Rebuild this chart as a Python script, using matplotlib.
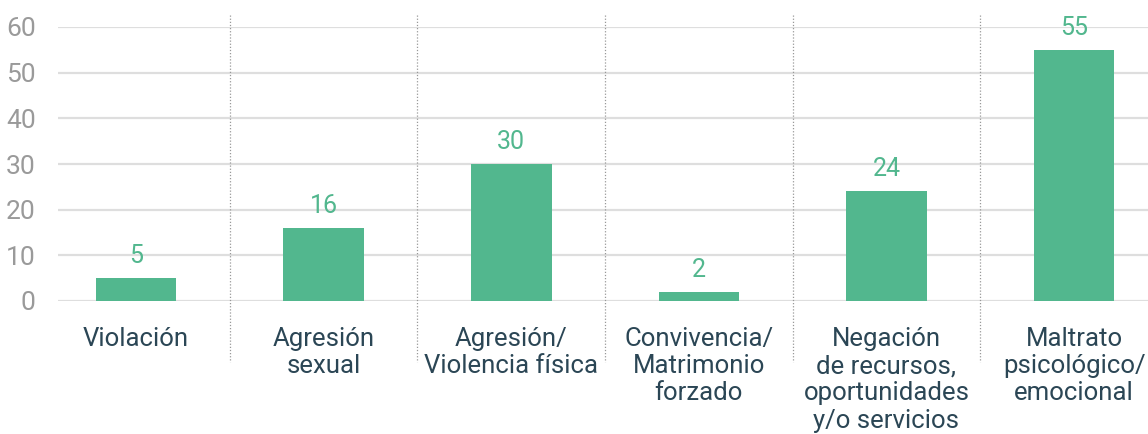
import matplotlib
matplotlib.use('Agg')
import matplotlib.pyplot as plt
import matplotlib.transforms as mtransforms
from matplotlib import font_manager

categories = ['Violación', 'Agresión\nsexual', 'Agresión/\nViolencia física',
              'Convivencia/\nMatrimonio\nforzado',
              'Negación\nde recursos,\noportunidades\ny/o servicios',
              'Maltrato\npsicológico/\nemocional']
values = [5, 16, 30, 2, 24, 55]
y_ticks = [0, 10, 20, 30, 40, 50, 60]

names = {f.name for f in font_manager.fontManager.ttflist}
narrow = 'Liberation Sans Narrow' if 'Liberation Sans Narrow' in names else 'Roboto'

green = '#52b78e'
dark = '#2b4655'

fig = plt.figure(figsize=(11.48, 4.34), dpi=100)
ax = fig.add_axes([58 / 1148, 1 - 301 / 434, 1 - 58 / 1148, 274 / 434])

x = list(range(len(values)))
ax.bar(x, values, width=0.43, color=green, zorder=3)

for xi, v in zip(x, values):
    ax.text(xi, v + 2.2, str(v), ha='center', va='bottom', color=green,
            fontsize=18, family=narrow)

ax.set_ylim(0, 60)
ax.set_xlim(-0.416, 5.394)
ax.set_yticks(y_ticks)
ax.set_yticklabels([str(t) for t in y_ticks], family=narrow, fontsize=19, color='#9a9a9a')
ax.yaxis.grid(True, color='#dedede', linewidth=1.6, zorder=0)
ax.tick_params(axis='y', length=0, pad=16)
ax.set_xticks([])
for s in ax.spines.values():
    s.set_visible(False)

trans = mtransforms.blended_transform_factory(ax.transData, ax.transAxes)
for i in range(len(values) - 1):
    ax.plot([i + 0.5, i + 0.5], [1.044, -0.223], transform=trans, clip_on=False,
            color='#999999', linestyle=(0, (1, 1.5)), linewidth=0.9)

for xi, lab in zip(x, categories):
    ax.text(xi, -0.095, lab, transform=trans, ha='center', va='top', color=dark,
            fontsize=18.5, family='Roboto', linespacing=1.17)

fig.savefig('out.png', dpi=100)
